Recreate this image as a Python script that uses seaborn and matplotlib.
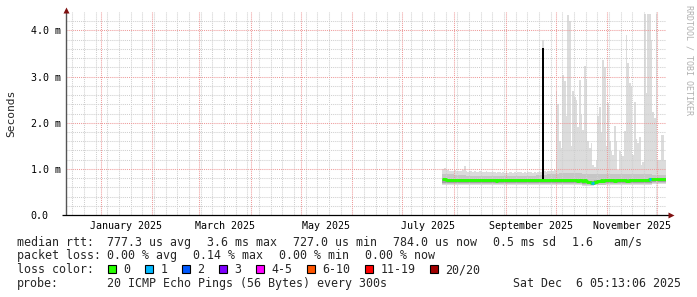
import numpy as np
import pandas as pd
import matplotlib
matplotlib.use("Agg")
import matplotlib.pyplot as plt
from matplotlib.patches import Rectangle
import seaborn as sns

# ---------------- data ----------------
start_day = "2025-07-25"
end_time = "2025-12-06 05:13:06"
range_days = 360

# daily median rtt (ms), Jul 25 .. Dec 6
median_ms = [
    0.78, 0.77, 0.76, 0.76, 0.76, 0.75, 0.76,
    0.76, 0.76, 0.75, 0.76, 0.76, 0.75, 0.75, 0.76, 0.76, 0.75, 0.75, 0.76, 0.75, 0.75, 0.76, 0.75,
    0.75, 0.75, 0.76, 0.75, 0.75, 0.75, 0.76, 0.75, 0.75, 0.74, 0.75, 0.75, 0.75, 0.76, 0.75,
    0.75, 0.75, 0.76, 0.75, 0.75, 0.75, 0.76, 0.75, 0.75, 0.76, 0.75, 0.75, 0.75, 0.76, 0.76,
    0.75, 0.75, 0.76, 0.75, 0.75, 0.75, 0.75, 0.76, 0.75, 0.75, 0.75, 0.76, 0.75, 0.75, 0.75,
    0.75, 0.75, 0.76, 0.75, 0.75, 0.75, 0.76, 0.75, 0.75, 0.75, 0.76, 0.75, 0.75, 0.74, 0.75,
    0.75, 0.74, 0.75, 0.74, 0.72, 0.71, 0.70, 0.70, 0.71, 0.72, 0.73, 0.74, 0.75, 0.74, 0.75, 0.75,
    0.75, 0.75, 0.75, 0.75, 0.74, 0.75, 0.75, 0.75, 0.75, 0.75, 0.75, 0.74, 0.74, 0.75, 0.75,
    0.75, 0.75, 0.75, 0.75, 0.76, 0.76, 0.76, 0.76, 0.76, 0.76, 0.77, 0.78, 0.78, 0.78, 0.78,
    0.78, 0.78, 0.78, 0.79, 0.78, 0.78,
]

# daily maximum of the smoke (ms)
smoke_max_ms = [
    1.00, 1.02, 0.98, 0.97, 0.96, 0.95, 0.96,
    0.97, 0.95, 0.96, 0.95, 0.96, 0.97, 1.06, 0.95, 0.94, 0.95, 0.96, 0.94, 0.95, 0.94, 0.93, 0.95,
    0.94, 0.93, 0.94, 0.95, 0.93, 0.94, 0.93, 0.94, 0.93, 0.92, 0.93, 0.94, 0.92, 0.93, 0.92,
    0.93, 0.92, 0.94, 0.93, 0.92, 0.93, 0.92, 0.93, 0.94, 0.93, 0.92, 0.93, 0.92, 0.93, 0.94,
    0.93, 0.92, 0.93, 0.92, 0.93, 0.94, 0.93, 3.80, 0.95, 0.94, 0.96, 0.95, 0.97, 0.96, 0.98,
    2.68, 2.40, 1.60, 1.45, 3.04, 2.90, 2.14, 4.34, 4.20, 1.50, 2.68, 2.55, 2.50, 1.90, 2.93,
    2.17, 1.85, 3.22, 2.95, 1.60, 1.45, 1.55, 1.09, 1.05, 1.20, 2.14, 2.35, 1.80, 3.36, 3.20, 1.49,
    2.43, 1.60, 1.38, 1.30, 1.92, 1.60, 0.98, 1.38, 1.30, 1.27, 1.81, 3.90, 3.30, 2.86, 2.79,
    1.31, 2.46, 1.65, 1.55, 1.70, 1.09, 1.15, 4.35, 2.65, 4.35, 4.35, 3.80, 2.24, 2.10, 4.35,
    1.20, 1.20, 1.73, 1.73, 1.20, 1.20,
]

# weekly smoke bands (ms), weeks starting Jul 25
smoke_min_ms = [0.66, 0.66, 0.66, 0.66, 0.66, 0.66, 0.66, 0.66, 0.66, 0.66,
                0.66, 0.65, 0.62, 0.64, 0.65, 0.65, 0.66, 0.66, 0.67, 0.67]
mid_lo_ms = [0.68, 0.68, 0.68, 0.68, 0.68, 0.68, 0.68, 0.68, 0.68, 0.68,
             0.68, 0.67, 0.65, 0.66, 0.67, 0.67, 0.68, 0.68, 0.69, 0.69]
mid_hi_ms = [0.88, 0.86, 0.85, 0.85, 0.85, 0.85, 0.85, 0.85, 0.86, 0.88,
             0.90, 0.90, 0.88, 0.88, 0.88, 0.88, 0.88, 0.88, 0.86, 0.86]
dark_lo_ms = [0.70, 0.70, 0.70, 0.70, 0.70, 0.70, 0.70, 0.70, 0.70, 0.70,
              0.70, 0.69, 0.67, 0.69, 0.70, 0.70, 0.70, 0.70, 0.71, 0.71]
dark_hi_ms = [0.78, 0.77, 0.77, 0.77, 0.77, 0.77, 0.77, 0.77, 0.77, 0.77,
              0.77, 0.77, 0.74, 0.76, 0.77, 0.77, 0.77, 0.78, 0.79, 0.79]

spike_days = ["2025-09-23"]
spike_top_ms = [3.62]

loss_days = ["2025-10-22", "2025-10-23", "2025-11-26"]
loss_index = [1, 1, 1]

loss_labels = ["0", "1", "2", "3", "4-5", "6-10", "11-19", "20/20"]
loss_colors = ["#26ff00", "#00b8ff", "#0059ff", "#7e00ff", "#ff00ff",
               "#ff5500", "#ff0000", "#a10000"]

month_labels = ["January 2025", "March 2025", "May 2025",
                "July 2025", "September 2025", "November 2025"]
ytick_vals = [0, 1, 2, 3, 4]
ytick_labels = ["0.0", "1.0 m", "2.0 m", "3.0 m", "4.0 m"]

rtt_items = ["777.3 us avg", "3.6 ms max", "727.0 us min", "784.0 us now", "0.5 ms sd", "1.6   am/s"]
loss_items = ["0.00 % avg", "0.14 % max", "0.00 % min", "0.00 % now"]
probe_items = ["20 ICMP Echo Pings (56 Bytes) every 300s"]
line_heads = ["median rtt:", "packet loss:", "loss color:", "probe:"]
line_date = "Sat Dec  6 05:13:06 2025"
watermark = "RRDTOOL / TOBI OETIKER"

# ---------------- style ----------------
sns.set_style("white")
plt.rcParams["font.family"] = ["DejaVu Sans Mono"]
plt.rcParams["lines.solid_capstyle"] = "butt"

W, H = 697, 297
fig = plt.figure(figsize=(W / 100, H / 100), dpi=100, facecolor="white")

def fx(px):
    return px / W

def fy(py):
    return 1 - py / H

ax_left, ax_right, ax_top, ax_bottom = 66, 666, 12, 215
ax = fig.add_axes([fx(ax_left), fy(ax_bottom), (ax_right - ax_left) / W, (ax_bottom - ax_top) / H])
ax.set_facecolor("white")

end_ts = pd.Timestamp(end_time)
start_ts = end_ts - pd.Timedelta(days=range_days)
ax.set_xlim(start_ts, end_ts)
ax.set_ylim(0, 4.4)

# daily series
days = pd.date_range(start_day, periods=len(median_ms), freq="D")
edges = list(days) + [end_ts]
med = np.array(median_ms + [median_ms[-1]])
smax = np.array(smoke_max_ms + [smoke_max_ms[-1]])

weeks = pd.date_range(start_day, periods=len(smoke_min_ms), freq="7D")
wedges = list(weeks) + [end_ts]
def wext(a):
    return np.array(a + [a[-1]])

# smoke
smin_daily = pd.Series(smoke_min_ms, index=weeks).reindex(days, method="ffill").to_numpy()
smin_daily = np.append(smin_daily, smin_daily[-1])
ax.fill_between(edges, smin_daily, smax, step="post", color="#dcdcdc", lw=0, zorder=1)
ax.fill_between(wedges, wext(mid_lo_ms), wext(mid_hi_ms), step="post", color="#c6c6c6", lw=0, zorder=2)
ax.fill_between(wedges, wext(dark_lo_ms), wext(dark_hi_ms), step="post", color="#a2a2a2", lw=0, zorder=3)

# grid
grey = "#cfcfcf"
red = "#ee9a9a"
dash = (0, (1, 1))
month_starts = pd.date_range("2024-12-01", "2025-12-01", freq="MS")
month_starts = [m for m in month_starts if start_ts <= m <= end_ts]
sundays = pd.date_range("2024-12-01", "2025-12-06", freq="W-SUN")
for s in sundays:
    if start_ts < s < end_ts and s not in month_starts:
        ax.axvline(s, color=grey, lw=0.75, ls=dash, zorder=4)
for v in np.arange(0.2, 4.3, 0.2):
    if abs(v - round(v)) > 1e-6:
        ax.axhline(v, color=grey, lw=0.75, ls=dash, zorder=4)
for m in month_starts:
    ax.axvline(m, color=red, lw=0.75, ls=dash, zorder=4)
for v in ytick_vals[1:]:
    ax.axhline(v, color=red, lw=0.75, ls=dash, zorder=4)

# spike (black)
sp_x = pd.to_datetime(spike_days)
sp_med = [median_ms[(d - days[0]).days] for d in sp_x]
ax.bar(sp_x, np.array(spike_top_ms) - np.array(sp_med), bottom=sp_med, width=1.3,
       align="edge", color="black", lw=0, zorder=5)

# median line
sns.lineplot(x=edges, y=med, drawstyle="steps-post", color=loss_colors[0], lw=2.1,
             estimator=None, sort=False, ax=ax, zorder=6)
for dstr, li in zip(loss_days, loss_index):
    d0 = pd.Timestamp(dstr)
    i = (d0 - days[0]).days
    sns.lineplot(x=[d0, d0 + pd.Timedelta(days=1)], y=[median_ms[i], median_ms[i]],
                 color=loss_colors[li], lw=2.1, estimator=None, sort=False, ax=ax, zorder=7)

# axes lines and arrows
for s in ax.spines.values():
    s.set_visible(False)
ax.plot([0, 0], [0, 1], transform=ax.transAxes, color="#555555", lw=1.0, clip_on=False, zorder=8)
ax.plot([-4 / 600, 1 + 3 / 600], [0, 0], transform=ax.transAxes, color="black", lw=0.9,
        clip_on=False, zorder=8)
ax.plot([0], [1 + 2 / 203], marker="^", ms=4.5, color="#7f1010", transform=ax.transAxes,
        clip_on=False, zorder=9, mec="none")
ax.plot([1 + 5 / 600], [0], marker=">", ms=4.5, color="#7f1010", transform=ax.transAxes,
        clip_on=False, zorder=9, mec="none")

# ticks
mid_months = []
for lab in month_labels:
    ms_ = pd.Timestamp(pd.to_datetime(lab, format="%B %Y"))
    me_ = ms_ + pd.offsets.MonthBegin(1)
    mid_months.append(ms_ + (me_ - ms_) / 2)
ax.set_xticks(mid_months)
ax.set_xticklabels(month_labels, fontsize=7.2, color="black")
ax.set_yticks(ytick_vals)
ax.set_yticklabels(ytick_labels, fontsize=7.2, color="black", ha="left")
ax.tick_params(axis="x", length=0, pad=4.0)
ax.tick_params(axis="y", length=0, pad=25.4)
ax.grid(False)
ax.set_xlabel("")
ax.set_ylabel("")

# text
fig.text(fx(11), fy(113.5), "Seconds", rotation=90, ha="center", va="center", fontsize=8.1)
fig.text(fx(689.5), fy(5), watermark, rotation=270, ha="center", va="top", fontsize=6.0,
         color="#b0b0b0")

fs = 8.37
cw = 7.0
x0 = 16.7
col2 = 107.3
gap = 16.0
baselines = [245.7, 259.3, 273.3, 287.3]

for head, yb in zip(line_heads, baselines):
    fig.text(fx(x0), fy(yb), head, ha="left", va="baseline", fontsize=fs)

for items, yb in ((rtt_items, baselines[0]), (loss_items, baselines[1]), (probe_items, baselines[3])):
    xx = col2
    for it in items:
        fig.text(fx(xx), fy(yb), it, ha="left", va="baseline", fontsize=fs)
        xx += len(it) * cw + gap

fig.text(fx(681.3), fy(baselines[3]), line_date, ha="right", va="baseline", fontsize=fs)

bx = col2 + 1
for lab, col in zip(loss_labels, loss_colors):
    fig.patches.append(Rectangle((fx(bx), fy(baselines[2])), 8 / W, 8 / H, transform=fig.transFigure,
                                 facecolor=col, edgecolor="black", lw=0.8, figure=fig))
    lx = bx + 15
    fig.text(fx(lx), fy(baselines[2]), lab, ha="left", va="baseline", fontsize=fs)
    bx = lx + len(lab) * cw + 15

fig.savefig("out.png", dpi=100, facecolor="white")
